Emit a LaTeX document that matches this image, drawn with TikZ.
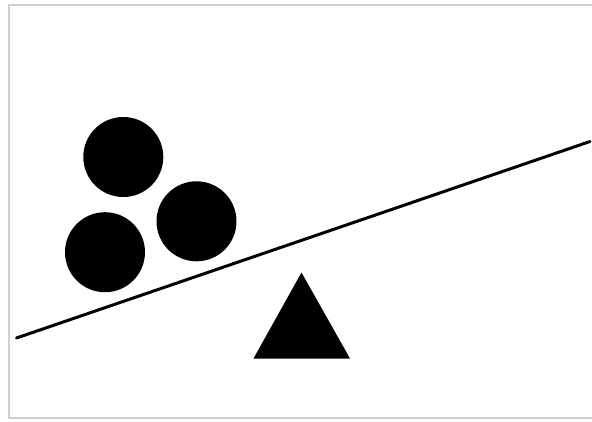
\documentclass[tikz,border=0pt]{standalone}
\definecolor{framegray}{RGB}{208,208,208}
\begin{document}
\begin{tikzpicture}[x=1pt,y=-1pt,
  ball/.style={fill=black},
  plank/.style={line width=3pt,line cap=round,black},
  framebox/.style={line width=2.2pt,framegray}]
\useasboundingbox (0,0) rectangle (592,421);
\draw[framebox] (600,5.2) -- (8.8,5.2) -- (8.8,417.8) -- (600,417.8);
\fill[ball] (123.3,157) circle (40);
\fill[ball] (196.5,221.3) circle (40);
\fill[ball] (105,252.2) circle (40);
\draw[plank] (16.5,338) -- (590,141.5);
\fill (301.5,272.5) -- (253.5,358.5) -- (350,358.5) -- cycle;
\end{tikzpicture}
\end{document}
